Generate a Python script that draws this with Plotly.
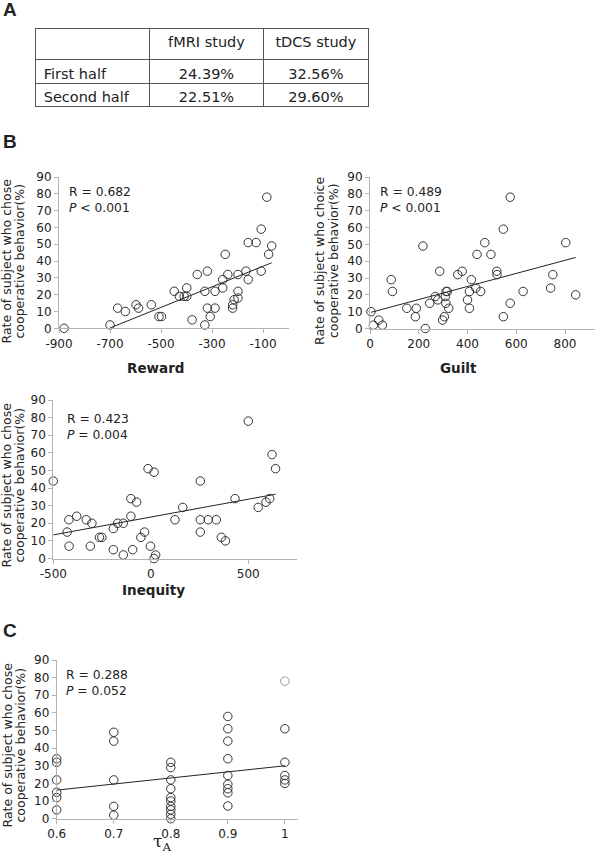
import plotly.graph_objects as go

W, H = 607, 853


def px(x):
    return x / W


def py(y):
    return 1 - y / H


# ---------------- data ----------------
table_header = ["", "fMRI study", "tDCS study"]
table_rows = ["First half", "Second half"]
fmri_rates = ["24.39%", "22.51%"]
tdcs_rates = ["32.56%", "29.60%"]

reward_x = [-880, -700, -670, -640, -598, -588, -538, -508, -498, -448, -428, -409, -399, -399,
            -378, -358, -328, -328, -318, -318, -307, -288, -288, -258, -258, -248, -238, -219,
            -219, -213, -198, -198, -198, -167, -158, -158, -127, -107, -107, -85, -78, -66]
reward_y = [0, 2, 12, 10, 14, 12, 14, 7, 7, 22, 19, 19, 19, 24,
            5, 32, 22, 2, 34, 12, 7, 22, 12, 29, 24, 44, 32, 14,
            12, 17, 32, 22, 18, 34, 29, 51, 51, 59, 34, 78, 44, 49]
reward_fit_x = [-700, -66]
reward_fit_y = [0.2, 39]

guilt_x = [4, 14, 36, 51, 87, 92, 151, 186, 190, 217, 227, 245, 268, 278, 286, 298, 305, 309,
           312, 317, 311, 323, 360, 378, 400, 408, 408, 416, 434, 439, 454, 471, 496, 520, 521,
           547, 547, 575, 575, 628, 741, 750, 803, 844]
guilt_y = [10, 2, 5, 2, 29, 22, 12, 7, 12, 49, 0, 15, 19, 17, 34, 5, 7, 19,
           22, 22, 15, 12, 32, 34, 17, 12, 22, 29, 24, 44, 22, 51, 44, 34, 32,
           7, 59, 15, 78, 22, 24, 32, 51, 20]
guilt_fit_x = [4, 844]
guilt_fit_y = [9.6, 42.2]

inequity_x = [-500, -429, -420, -419, -380, -331, -310, -302, -263, -251, -192, -192, -170, -141,
              -141, -102, -102, -93, -73, -51, -32, -14, -2, 17, 17, 25, 124, 164, 254, 254, 254,
              295, 336, 362, 383, 432, 500, 551, 591, 610, 622, 640]
inequity_y = [44, 15, 22, 7, 24, 22, 7, 20, 12, 12, 5, 17, 20, 2,
              20, 34, 24, 5, 32, 12, 15, 51, 7, 49, 0, 2, 22, 29, 44, 22, 15,
              22, 22, 12, 10, 34, 78, 29, 32, 34, 59, 51]
inequity_fit_x = [-500, 640]
inequity_fit_y = [13.4, 36.5]

tau_x = [0.6] * 6 + [0.7] * 5 + [0.8] * 10 + [0.9] * 9 + [1.0] * 6
tau_y = [34, 32, 22, 15, 12, 5,
         49, 44, 22, 7, 2,
         32, 29, 22, 17, 12, 10, 7, 5, 2.5, 0,
         58, 51, 44, 34, 24.5, 19.5, 17, 14.7, 7.2,
         78, 51, 32, 24.5, 22, 20]
tau_fit_x = [0.6, 1.0]
tau_fit_y = [16.2, 30]

y_ticks = list(range(0, 100, 10))
reward_ticks = [-900, -700, -500, -300, -100]
reward_tick_labels = ["-900", "-700", "-500", "-300", "-100"]
guilt_ticks = [0, 200, 400, 600, 800]
inequity_ticks = [-500, 0, 500]
inequity_tick_labels = ["-500", "0", "500"]
tau_ticks = [0.6, 0.7, 0.8, 0.9, 1.0]
tau_tick_labels = ["0.6", "0.7", "0.8", "0.9", "1"]

# ---------------- figure ----------------
FONT = "DejaVu Sans"
TXT = "#222222"
AX = "#b3b3b3"
MK = "#333333"

fig = go.Figure()

fig.add_trace(go.Table(
    domain=dict(x=[px(35.7), px(369.5)], y=[py(200), py(28.3)]),
    columnwidth=[114.3, 113.3, 105.7],
    header=dict(values=table_header, height=31.5, align=["left", "center", "center"],
                line=dict(color="#555555", width=1), fill_color="white",
                font=dict(family=FONT, size=14.5, color=TXT)),
    cells=dict(values=[table_rows, fmri_rates, tdcs_rates], height=23.3,
               align=["left", "center", "center"],
               line=dict(color="#555555", width=1), fill_color="white",
               font=dict(family=FONT, size=14.5, color=TXT)),
))

panels = [
    ("x", "y", reward_x, reward_y, reward_fit_x, reward_fit_y),
    ("x2", "y2", guilt_x, guilt_y, guilt_fit_x, guilt_fit_y),
    ("x3", "y3", inequity_x, inequity_y, inequity_fit_x, inequity_fit_y),
    ("x4", "y4", tau_x, tau_y, tau_fit_x, tau_fit_y),
]

for xa, ya, xs, ys, fx, fy in panels:
    if xa == "x4":
        colors = ["#9a9a9a" if (xv == 1.0 and yv > 70) else MK for xv, yv in zip(xs, ys)]
    else:
        colors = MK
    fig.add_trace(go.Scatter(
        x=fx, y=fy, mode="lines", xaxis=xa, yaxis=ya,
        line=dict(color="#222222", width=1), showlegend=False, hoverinfo="skip",
        cliponaxis=False,
    ))
    fig.add_trace(go.Scatter(
        x=xs, y=ys, mode="markers", xaxis=xa, yaxis=ya,
        marker=dict(symbol="circle-open", size=8.5, color=colors, line=dict(width=1, color=colors)),
        showlegend=False, cliponaxis=False,
    ))

common = dict(showline=True, linecolor=AX, linewidth=1, ticks="outside", ticklen=4,
              tickcolor=AX, showgrid=False, zeroline=False,
              tickfont=dict(family=FONT, size=12, color=TXT))

yax = dict(common, range=[0, 90], tickvals=y_ticks)

fig.update_layout(
    width=W, height=H,
    margin=dict(l=0, r=0, t=0, b=0, pad=0, autoexpand=False),
    paper_bgcolor="white", plot_bgcolor="white",
    xaxis=dict(common, domain=[px(59), px(288.5)], range=[-900, 0], tickvals=reward_ticks,
               ticktext=reward_tick_labels, anchor="y"),
    yaxis=dict(yax, domain=[py(328.3), py(177)], anchor="x"),
    xaxis2=dict(common, domain=[px(370), px(595)], range=[0, 923], tickvals=guilt_ticks, anchor="y2"),
    yaxis2=dict(yax, domain=[py(328.5), py(177)], anchor="x2"),
    xaxis3=dict(common, domain=[px(53.3), px(297)], range=[-500, 750], tickvals=inequity_ticks,
                ticktext=inequity_tick_labels, anchor="y3"),
    yaxis3=dict(yax, domain=[py(558.5), py(400)], anchor="x3"),
    xaxis4=dict(common, domain=[px(56.7), px(298)], range=[0.6, 1.023], tickvals=tau_ticks,
                ticktext=tau_tick_labels, anchor="y4"),
    yaxis4=dict(yax, domain=[py(818.7), py(660)], anchor="x4"),
)

ann = []


def text(x, y, s, size=12, family=FONT, xanchor="left", angle=0, color=TXT):
    ann.append(dict(x=px(x), y=py(y), xref="paper", yref="paper", text=s, showarrow=False,
                    xanchor=xanchor, yanchor="middle", textangle=angle,
                    font=dict(family=family, size=size, color=color)))


# panel letters
text(1, 9, "<b>A</b>", size=19, family="Liberation Sans")
text(1, 141, "<b>B</b>", size=19, family="Liberation Sans")
text(1, 630, "<b>C</b>", size=19, family="Liberation Sans")

# statistics
stats = [
    (67, 192, "R = 0.682", "<i>P</i> &lt; 0.001"),
    (378, 192.5, "R = 0.489", "<i>P</i> &lt; 0.001"),
    (65, 419, "R = 0.423", "<i>P</i> = 0.004"),
    (64, 675, "R = 0.288", "<i>P</i> = 0.052"),
]
for x, y, r, p in stats:
    text(x, y, r, size=12.3)
    text(x, y + 15.5, p, size=12.3)

# x-axis titles
text(155, 368, "<b>Reward</b>", size=13.5, xanchor="center")
text(459, 368, "<b>Guilt</b>", size=13.5, xanchor="center")
text(153, 590, "<b>Inequity</b>", size=13.5, xanchor="center")
text(162, 842, "τ<sub>A</sub>", size=17, family="DejaVu Serif", xanchor="center")

# y-axis titles (two lines each)
ytitles = [
    (6.5, 19.5, 261, "Rate of subject who chose"),
    (320, 334, 261, "Rate of subject who choice"),
    (6.5, 19.5, 485, "Rate of subject who chose"),
    (6.5, 19.5, 745, "Rate of subject who chose"),
]
for x1, x2, yc, l1 in ytitles:
    text(x1, yc, l1, size=12.5, xanchor="center", angle=-90)
    text(x2, yc, "cooperative behavior(%)", size=12.5, xanchor="center", angle=-90)

fig.update_layout(annotations=ann)

fig.write_html(
    "out.html",
    config={"displayModeBar": False},
    post_script="document.body.style.margin='0';document.body.style.padding='0';"
                "document.body.style.overflow='hidden';",
)
